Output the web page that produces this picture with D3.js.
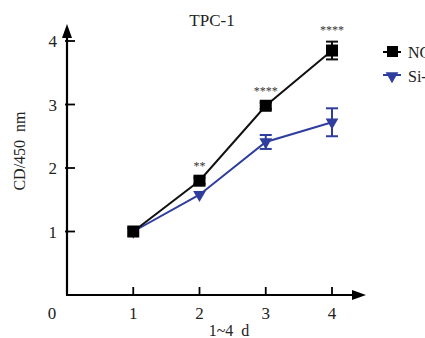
<!DOCTYPE html>
<html>
<head>
<meta charset="utf-8">
<script src="https://cdn.jsdelivr.net/npm/d3@7"></script>
<style>
  html, body { margin: 0; padding: 0; background: #fff; overflow: hidden; }
  svg text { font-family: "Liberation Serif", "DejaVu Serif", serif; fill: #222; }
</style>
</head>
<body>
<div id="chart"></div>
<script>
// data
const days = [1, 2, 3, 4];
const ncMean = [1.0, 1.8, 2.98, 3.85];
const ncErr = [0.02, 0.05, 0.05, 0.14];
const siMean = [1.0, 1.58, 2.41, 2.72];
const siErr = [0.02, 0.04, 0.11, 0.22];
const stars = ["", "**", "****", "****"];
const xTicks = [1, 2, 3, 4];
const yTicks = [1, 2, 3, 4];
const seriesNames = ["NC", "Si-RNA"];

const width = 425, height = 338;
const svg = d3.select("#chart").append("svg")
    .attr("width", width).attr("height", height);

// scales
const x = d3.scaleLinear().domain([0, 4]).range([67, 332]);
const y = d3.scaleLinear().domain([0, 4]).range([295, 41]);

const blue = "#2f3d9e";

// axes lines + arrow heads
svg.append("line")
    .attr("x1", x(0)).attr("y1", y(0)).attr("x2", x(0)).attr("y2", 32)
    .attr("stroke", "#000").attr("stroke-width", 2.2);
svg.append("path").attr("d", `M${x(0) - 5},38 L${x(0)},24 L${x(0) + 5},38 Z`).attr("fill", "#000");
svg.append("line")
    .attr("x1", x(0) - 1).attr("y1", y(0)).attr("x2", 358).attr("y2", y(0))
    .attr("stroke", "#000").attr("stroke-width", 2.2);
svg.append("path").attr("d", `M352,${y(0) - 5} L366,${y(0)} L352,${y(0) + 5} Z`).attr("fill", "#000");

// y ticks
const yAxis = svg.append("g");
yTicks.forEach(t => {
    yAxis.append("line").attr("x1", x(0) - 2).attr("x2", x(0) + 8)
        .attr("y1", y(t)).attr("y2", y(t)).attr("stroke", "#000").attr("stroke-width", 1.8);
    yAxis.append("text").attr("x", x(0) - 10).attr("y", y(t) + 6)
        .attr("text-anchor", "end").attr("font-size", 17).text(t);
});
// x ticks
const xAxis = svg.append("g");
xTicks.forEach(t => {
    xAxis.append("line").attr("x1", x(t)).attr("x2", x(t))
        .attr("y1", y(0)).attr("y2", y(0) - 8).attr("stroke", "#000").attr("stroke-width", 1.8);
    xAxis.append("text").attr("x", x(t)).attr("y", y(0) + 24)
        .attr("text-anchor", "middle").attr("font-size", 17).text(t);
});
svg.append("text").attr("x", 52).attr("y", y(0) + 24)
    .attr("text-anchor", "middle").attr("font-size", 17).text("0");

// titles
svg.append("text").attr("x", 212).attr("y", 26).attr("text-anchor", "middle")
    .attr("font-size", 17).text("TPC-1");
svg.append("text").attr("x", 229).attr("y", 336).attr("text-anchor", "middle")
    .attr("font-size", 16).attr("xml:space", "preserve").text("1~4  d");
svg.append("text").attr("transform", "translate(25,151) rotate(-90)")
    .attr("text-anchor", "middle").attr("font-size", 16)
    .attr("xml:space", "preserve").text("CD/450  nm");

const line = d3.line().x((d, i) => x(days[i])).y(d => y(d));

function errorBars(mean, err, color) {
    const g = svg.append("g").attr("stroke", color).attr("stroke-width", 2);
    mean.forEach((m, i) => {
        if (err[i] < 0.05) return;
        const cx = x(days[i]);
        g.append("line").attr("x1", cx).attr("x2", cx).attr("y1", y(m - err[i])).attr("y2", y(m + err[i]));
        g.append("line").attr("x1", cx - 6).attr("x2", cx + 6).attr("y1", y(m - err[i])).attr("y2", y(m - err[i]));
        g.append("line").attr("x1", cx - 6).attr("x2", cx + 6).attr("y1", y(m + err[i])).attr("y2", y(m + err[i]));
    });
}

// Si series (blue, triangles)
svg.append("path").datum(siMean).attr("d", line)
    .attr("fill", "none").attr("stroke", blue).attr("stroke-width", 2);
errorBars(siMean, siErr, blue);
const tri = d3.symbol().type(d3.symbolTriangle).size(70);
svg.append("g").selectAll("path").data(siMean).join("path")
    .attr("d", tri)
    .attr("transform", (d, i) => `translate(${x(days[i])},${y(d)}) rotate(180)`)
    .attr("fill", blue);

// NC series (black, squares)
svg.append("path").datum(ncMean).attr("d", line)
    .attr("fill", "none").attr("stroke", "#111").attr("stroke-width", 2);
errorBars(ncMean, ncErr, "#111");
svg.append("g").selectAll("rect").data(ncMean).join("rect")
    .attr("x", (d, i) => x(days[i]) - 6).attr("y", d => y(d) - 6)
    .attr("width", 12).attr("height", 12).attr("fill", "#000");

// significance stars
svg.append("g").selectAll("text").data(stars).join("text")
    .attr("x", (d, i) => x(days[i]))
    .attr("y", (d, i) => y(ncMean[i] + ncErr[i]) - 8)
    .attr("text-anchor", "middle").attr("font-size", 12)
    .style("fill", "#333")
    .text(d => d);

// legend (cut off at the right edge, as in the source)
const legend = svg.append("g");
legend.append("line").attr("x1", 383).attr("x2", 401).attr("y1", 52).attr("y2", 52)
    .attr("stroke", "#000").attr("stroke-width", 2);
legend.append("rect").attr("x", 387).attr("y", 46).attr("width", 11).attr("height", 11).attr("fill", "#000");
legend.append("text").attr("x", 408).attr("y", 58).attr("font-size", 16).text(seriesNames[0]);
legend.append("line").attr("x1", 383).attr("x2", 401).attr("y1", 75).attr("y2", 75)
    .attr("stroke", blue).attr("stroke-width", 2);
legend.append("path").attr("d", tri)
    .attr("transform", "translate(392,76) rotate(180)").attr("fill", blue);
legend.append("text").attr("x", 408).attr("y", 82).attr("font-size", 16).text(seriesNames[1]);
</script>
</body>
</html>
